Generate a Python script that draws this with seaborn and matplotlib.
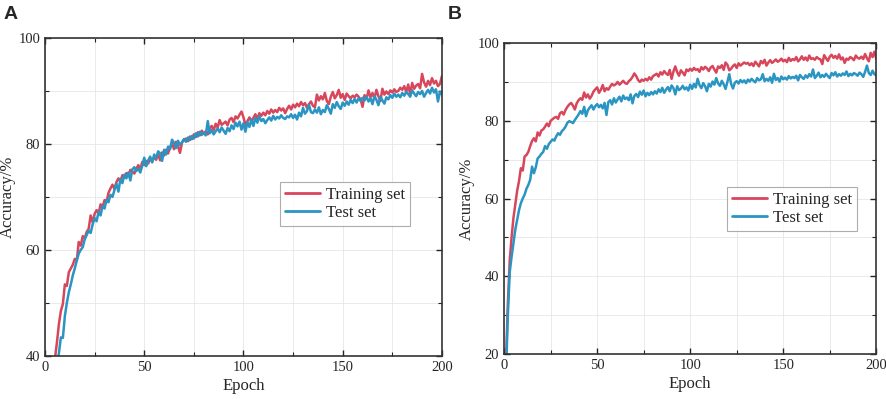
import numpy as np
import pandas as pd
import matplotlib
matplotlib.use("Agg")
import matplotlib.pyplot as plt
from matplotlib.ticker import MultipleLocator
import seaborn as sns

# epochs 1..200
epochs = list(range(1, 201))

train_a = [
    24.0, 29.5, 33.0, 36.5, 39.5, 42.5, 46.0, 48.5, 49.8, 53.5,
    53.2, 55.8, 56.5, 57.2, 58.3, 58.0, 61.5, 60.8, 62.6, 62.2,
    63.4, 64.0, 66.5, 65.2, 66.8, 67.5, 66.9, 68.6, 68.1, 69.4,
    69.0, 70.8, 71.6, 72.3, 71.5, 72.8, 73.5, 72.9, 74.1, 73.6,
    74.5, 73.9, 75.1, 74.8, 74.4, 75.3, 76.0, 75.2, 76.6, 76.0,
    76.8, 76.3, 77.2, 76.7, 77.5, 77.0, 78.1, 76.9, 78.4, 77.8,
    78.9, 78.2, 79.3, 80.1, 79.0, 80.4, 79.6, 78.3, 80.2, 80.8,
    81.0, 80.5, 81.4, 80.9, 81.8, 81.3, 82.2, 81.6, 82.5, 81.9,
    82.4, 81.8, 82.9, 83.4, 82.6, 83.8, 83.1, 84.5, 83.6, 83.9,
    84.2, 83.5, 84.6, 84.9, 84.1, 85.2, 84.8, 85.5, 86.1, 85.0,
    83.6, 84.3, 85.0, 84.2, 84.9, 85.6, 84.7, 85.8, 85.3, 85.9,
    85.4, 86.2, 85.7, 86.5, 85.9, 86.4, 86.0, 86.8, 86.3, 86.7,
    85.8, 86.6, 87.2, 86.5, 87.4, 86.9, 87.6, 87.1, 87.9, 87.3,
    87.7, 86.8, 87.5, 88.0, 87.2, 86.9, 89.3, 88.2, 89.0, 88.4,
    89.6, 88.1, 87.5, 88.9, 89.8, 88.6, 89.2, 90.2, 88.7, 89.4,
    88.3, 89.5, 89.0, 88.6, 89.1, 88.8, 89.3, 88.9, 88.4, 87.0,
    89.2, 88.5, 90.1, 88.8, 89.6, 88.6, 90.2, 89.0, 88.1, 90.4,
    89.3, 89.9, 89.4, 90.1, 89.7, 90.3, 89.8, 90.0, 90.6, 90.2,
    90.9, 89.8, 91.2, 89.4, 91.5, 90.4, 91.0, 91.3, 90.5, 93.2,
    91.6, 90.8, 91.9, 91.1, 92.4, 91.4, 91.9, 90.9, 91.3, 92.8,
]

test_a = [
    20.0, 25.0, 29.0, 33.0, 36.0, 38.5, 40.5, 43.5, 43.4, 47.5,
    50.0, 52.0, 53.5, 55.2, 56.5, 58.0, 59.3, 60.0, 60.5, 62.0,
    62.8, 63.6, 63.2, 64.8, 66.0, 65.4, 67.2, 66.5, 68.3, 67.8,
    69.5, 69.0, 70.4, 70.0, 71.3, 72.5, 71.0, 73.4, 72.6, 74.2,
    73.5, 74.6, 73.1, 75.2, 75.6, 74.9, 75.3, 74.6, 75.9, 77.4,
    75.8, 76.9, 77.6, 76.5, 78.0, 77.3, 78.6, 78.2, 76.8, 78.9,
    78.0, 79.5, 79.0, 80.8, 80.2, 79.2, 80.6, 79.8, 80.3, 80.9,
    80.4, 81.2, 80.7, 81.5, 81.0, 82.0, 81.4, 82.3, 81.7, 82.1,
    81.6, 84.3, 82.0, 82.6, 81.8, 82.4, 82.9, 82.2, 83.1, 82.5,
    81.9, 83.0, 82.4, 83.5, 82.8, 84.0, 83.3, 84.2, 82.7, 83.9,
    82.3, 84.1, 83.2, 84.6, 83.4, 84.9, 84.0, 85.2, 84.3, 84.7,
    83.9, 84.5, 85.0, 84.4, 85.3, 84.6, 85.1, 84.8, 85.4, 84.9,
    84.7, 85.2, 85.0, 85.6, 84.9, 85.5, 84.6, 85.9, 85.2, 86.8,
    85.7, 86.2, 87.4, 86.0, 85.8, 86.5, 85.9, 86.9, 85.6, 86.4,
    86.0, 87.3, 86.6, 85.7, 87.5, 86.8, 87.9, 87.1, 86.6, 87.8,
    87.2, 88.0, 87.4, 88.3, 87.7, 88.5, 87.8, 88.6, 88.1, 88.7,
    88.2, 88.9, 88.0, 88.6, 87.5, 89.0, 88.3, 87.3, 88.9, 88.2,
    87.6, 88.8, 88.4, 89.2, 88.7, 89.5, 88.9, 89.3, 88.8, 89.6,
    89.1, 89.8, 89.4, 88.9, 90.1, 89.5, 89.0, 89.8, 89.4, 90.0,
    88.9, 89.6, 90.2, 89.5, 90.6, 89.7, 90.3, 88.0, 89.9, 89.3,
]

train_b = [
    18.0, 33.0, 44.0, 50.0, 55.0, 58.5, 62.0, 64.5, 67.8, 67.2,
    70.8, 71.2, 72.0, 73.5, 74.8, 75.5, 74.7, 77.0, 76.2, 77.5,
    77.8, 78.5, 79.3, 78.6, 80.0, 80.4, 80.8, 81.0, 80.5, 81.9,
    82.3, 81.6, 82.8, 83.6, 84.2, 84.6, 83.9, 82.9, 84.5, 85.3,
    85.8, 85.4, 87.3, 86.0, 86.8, 85.7, 86.4, 87.5, 88.1, 88.6,
    87.2, 88.0, 89.2, 87.6, 88.4, 88.0, 88.8, 89.5, 89.1, 89.4,
    90.0, 89.3, 89.8, 90.3, 89.7, 89.5, 90.2, 90.6, 91.3, 92.2,
    91.5, 90.5, 90.0, 90.6, 90.3, 90.8, 90.4, 91.2, 90.6, 91.5,
    91.8, 92.1, 91.4, 92.5, 91.9, 92.8, 92.2, 91.8, 93.1, 90.8,
    92.7, 94.0, 92.5, 91.6, 93.0, 92.4, 91.7, 93.2, 92.8, 93.4,
    92.9, 93.6, 93.1, 93.3, 92.6, 93.8, 93.2, 93.9, 93.5, 92.8,
    93.7, 94.1, 93.2, 92.4, 94.0, 93.6, 94.3, 93.1, 95.0, 94.4,
    93.0, 93.4, 94.1, 94.5, 93.6, 94.8, 94.2, 94.6, 95.0, 94.7,
    94.9, 94.3, 94.8, 94.1, 95.2, 94.6, 94.0, 95.4, 94.8, 95.7,
    94.2, 95.0, 95.6, 94.9, 95.3, 95.8, 95.2, 95.5, 96.0, 95.3,
    95.7, 95.1, 96.2, 95.4, 95.9, 95.6, 96.4, 95.3, 95.8, 96.6,
    95.7, 96.3, 95.5, 96.8, 95.9, 96.1, 95.7, 96.4, 96.0, 95.8,
    94.6, 96.9, 96.1, 95.4, 96.5, 97.0, 96.2, 96.7, 96.0, 97.1,
    95.8, 96.3, 94.9, 96.0, 95.7, 96.4, 96.1, 95.6, 96.8, 96.2,
    96.0, 96.5, 95.9, 97.2, 96.1, 95.3, 97.5, 96.4, 97.8, 95.9,
]

test_b = [
    15.0, 30.0, 41.0, 45.0, 48.5, 52.0, 54.5, 57.0, 58.8, 60.0,
    61.0, 62.5, 63.5, 64.8, 68.2, 66.5, 68.0, 70.3, 70.8, 71.5,
    72.0, 73.5, 72.8, 74.0, 74.6, 75.2, 74.9, 76.0, 76.8, 76.4,
    77.3, 77.8, 78.5, 79.5, 79.9, 79.7, 79.4, 80.2, 80.9, 81.6,
    82.5, 81.8, 83.6, 81.2, 82.7, 83.4, 84.0, 82.9, 83.8, 84.3,
    83.5, 84.1, 83.2, 84.6, 81.5, 84.8, 85.3, 84.2, 85.8, 84.7,
    85.5, 86.2, 85.0, 86.5, 85.6, 86.0, 85.3, 86.8, 84.5, 86.4,
    86.9, 86.1, 87.5, 86.7, 87.8, 86.3, 87.2, 86.6, 87.4, 86.8,
    87.6, 87.0, 88.1, 87.4, 88.5, 87.2, 88.0, 88.7, 87.6, 89.1,
    88.4, 86.8, 88.9, 87.9, 88.3, 89.0, 88.1, 88.6, 87.8, 89.3,
    88.2, 89.5, 88.6, 90.8, 89.2, 88.4, 89.7, 88.9, 87.6, 89.5,
    88.8, 90.1, 89.3, 91.0, 89.6, 89.0, 90.3, 89.4, 88.2, 90.0,
    92.0, 89.5, 88.3, 89.8, 90.2, 89.6, 90.5, 89.9, 90.4, 89.7,
    90.6, 90.1, 90.8, 90.3, 89.9, 91.0, 90.4, 90.7, 92.0, 90.2,
    90.8, 90.3, 91.2, 89.8, 92.1, 90.5, 91.0, 90.1, 91.4, 90.7,
    91.1, 90.6, 91.5, 90.9, 91.3, 91.0, 91.6, 90.4, 91.8, 91.2,
    90.8, 91.7, 91.1, 92.0, 91.4, 93.2, 91.0, 91.6, 92.4, 91.2,
    91.8, 91.3, 92.1, 91.5, 91.0, 92.3, 91.7, 92.5, 91.4, 92.0,
    91.6, 92.2, 91.8, 92.7, 91.5, 92.1, 91.7, 92.3, 92.0, 91.6,
    92.4, 92.0, 91.3, 92.6, 94.2, 92.3, 91.8, 92.9, 92.0, 91.7,
]

series_names = ['Training set', 'Test set']
panel_labels = ['A', 'B']
ylims = [(40, 100), (20, 100)]

sns.set_style("ticks")
plt.rcParams['font.family'] = ['Liberation Serif', 'DejaVu Serif']

red  = '#d8465b'
blue = '#2a95c3'

fig = plt.figure(figsize=(8.86, 3.99), dpi=100)
ax_a = fig.add_axes([0.0508, 0.108, 0.448, 0.797])
ax_b = fig.add_axes([0.569, 0.113, 0.420, 0.779])

def make_df(train, test):
    return pd.DataFrame({
        'Epoch': epochs + epochs,
        'Accuracy': train + test,
        'Set': [series_names[0]] * len(epochs) + [series_names[1]] * len(epochs),
    })

data = [make_df(train_a, test_a), make_df(train_b, test_b)]
legend_pos = [(0.592, 0.548), (0.600, 0.538)]

for ax, df, ylim, lab, lpos in zip([ax_a, ax_b], data, ylims, panel_labels, legend_pos):
    sns.lineplot(ax=ax, data=df, x='Epoch', y='Accuracy', hue='Set',
                 palette=[red, blue], linewidth=1.8, estimator=None)
    ax.set_xlim(0, 200)
    ax.set_ylim(*ylim)
    ax.xaxis.set_major_locator(MultipleLocator(50))
    ax.xaxis.set_minor_locator(MultipleLocator(25))
    ax.yaxis.set_major_locator(MultipleLocator(20))
    ax.yaxis.set_minor_locator(MultipleLocator(10))
    ax.grid(True, which='both', color='#e6e6e6', linewidth=0.6)
    ax.set_axisbelow(True)
    ax.tick_params(which='both', direction='in', top=True, right=True,
                   labelsize=10.5, color='#222222')
    ax.tick_params(which='major', length=4, width=1.0)
    ax.tick_params(which='minor', length=3, width=0.8)
    for s in ax.spines.values():
        s.set_linewidth(1.2)
        s.set_color('#333333')
    ax.set_xlabel('Epoch', fontsize=12, labelpad=3)
    ax.set_ylabel('Accuracy/%', fontsize=12, labelpad=2)
    leg = ax.legend(loc='upper left', bbox_to_anchor=lpos, fontsize=12,
                    frameon=True, fancybox=False, edgecolor='#999999',
                    handlelength=2.1, handletextpad=0.35, borderpad=0.3,
                    labelspacing=0.15, borderaxespad=0)
    leg.get_frame().set_linewidth(0.8)
    for line in leg.get_lines():
        line.set_linewidth(2.0)

fig.text(0.004, 0.985, 'A', fontsize=14, fontweight='bold',
         family='Liberation Sans', va='top', ha='left')
fig.text(0.505, 0.985, 'B', fontsize=14, fontweight='bold',
         family='Liberation Sans', va='top', ha='left')

fig.savefig('out.png', dpi=100, facecolor='white')
